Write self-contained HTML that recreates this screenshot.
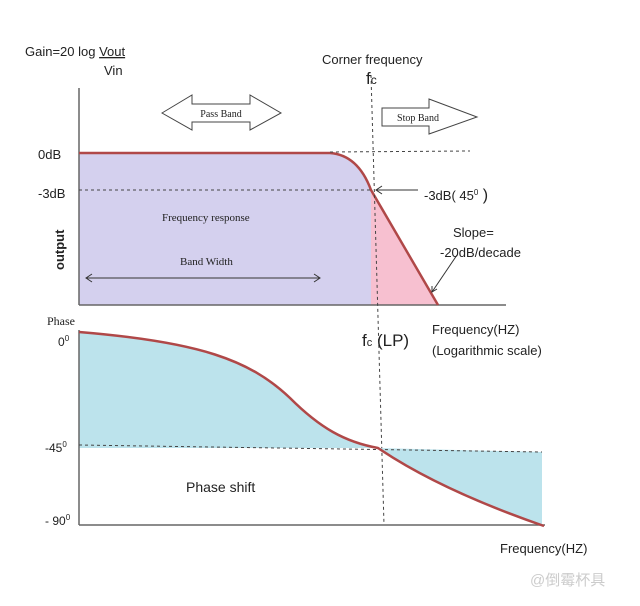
<!DOCTYPE html>
<html><head><meta charset="utf-8"><style>
html,body{margin:0;padding:0;background:#fff;}
svg{display:block;}
.c{font-family:"Liberation Sans","DejaVu Sans",sans-serif;fill:#222;}
.s{font-family:"Liberation Serif",serif;fill:#222;}
</style></head><body>
<svg width="640" height="606" viewBox="0 0 640 606" xmlns="http://www.w3.org/2000/svg">
<path d="M79,153 L330,153 Q358,155 371,190 L371,305 L79,305 Z" fill="#d4d0ee"/>
<path d="M371,190 L438,305 L371,305 Z" fill="#f7c0d0"/>
<line x1="79" y1="88" x2="79" y2="305" stroke="#666" stroke-width="1.5"/>
<line x1="79" y1="305" x2="506" y2="305" stroke="#666" stroke-width="1.5"/>
<path d="M79,153 L330,153 Q358,155 371,190 L438,305" fill="none" stroke="#b04848" stroke-width="2.5"/>
<line x1="330" y1="152" x2="470" y2="151" stroke="#444" stroke-dasharray="3,3"/>
<line x1="79" y1="190" x2="372" y2="190" stroke="#444" stroke-dasharray="3,3"/>
<line x1="371" y1="75" x2="384" y2="525" stroke="#444" stroke-dasharray="3,3"/>
<line x1="418" y1="190" x2="376" y2="190" stroke="#333"/>
<path d="M382,186 L376,190 L382,194" fill="none" stroke="#333"/>
<line x1="457" y1="255" x2="432" y2="292" stroke="#333"/>
<path d="M432,286 L432,292 L437,289" fill="none" stroke="#333"/>
<line x1="86" y1="278" x2="320" y2="278" stroke="#333"/>
<path d="M92,274 L86,278 L92,282 M314,274 L320,278 L314,282" fill="none" stroke="#333"/>
<path d="M162,113 L192,95 L192,104 L250,104 L250,95 L281,113 L250,130 L250,122 L192,122 L192,130 Z" fill="#fff" stroke="#444"/>
<text x="221" y="117" class="s" font-size="10" text-anchor="middle">Pass Band</text>
<path d="M382,108 L429,108 L429,99 L477,117 L429,134 L429,126 L382,126 Z" fill="#fff" stroke="#444"/>
<text x="418" y="121" class="s" font-size="10" text-anchor="middle">Stop Band</text>
<text x="25" y="56" class="c" font-size="13">Gain=20 log <tspan text-decoration="underline">Vout</tspan></text>
<text x="104" y="75" class="c" font-size="13">Vin</text>
<text x="322" y="64" class="c" font-size="13">Corner frequency</text>
<text x="366" y="84" class="c" font-size="17">f<tspan font-size="12">c</tspan></text>
<text x="38" y="159" class="c" font-size="13">0dB</text>
<text x="38" y="198" class="c" font-size="13">-3dB</text>
<text x="424" y="200" class="c" font-size="13">-3dB( 45<tspan font-size="8" dy="-5">0</tspan><tspan dy="5" font-size="16"> )</tspan></text>
<text x="453" y="237" class="c" font-size="13">Slope=</text>
<text x="440" y="257" class="c" font-size="13">-20dB/decade</text>
<text x="162" y="221" class="s" font-size="11">Frequency response</text>
<text x="180" y="265" class="s" font-size="11">Band Width</text>
<text x="64" y="270" class="c" font-size="13" font-weight="bold" transform="rotate(-90 64 270)">output</text>
<path d="M79,332 C200,342 250,360 290,398 C320,428 345,442 378,448 L79,448 Z" fill="#bce3ec"/>
<path d="M378,448 L542,452 L542,525 Q440,490 378,448 Z" fill="#bce3ec"/>
<line x1="79" y1="330" x2="79" y2="525" stroke="#666" stroke-width="1.5"/>
<line x1="79" y1="525" x2="545" y2="525" stroke="#666" stroke-width="1.5"/>
<line x1="79" y1="445" x2="542" y2="452" stroke="#444" stroke-dasharray="3,3"/>
<path d="M79,332 C200,342 250,360 290,398 C320,428 345,442 378,448 Q440,490 544,526" fill="none" stroke="#b04848" stroke-width="2.5"/>
<text x="47" y="325" class="s" font-size="12">Phase</text>
<text x="58" y="346" class="c" font-size="12">0<tspan font-size="8" dy="-5">0</tspan></text>
<text x="45" y="452" class="c" font-size="12">-45<tspan font-size="8" dy="-5">0</tspan></text>
<text x="45" y="525" class="c" font-size="12">- 90<tspan font-size="8" dy="-5">0</tspan></text>
<text x="362" y="346" class="c" font-size="17">f<tspan font-size="11">c</tspan> (LP)</text>
<text x="432" y="334" class="c" font-size="13">Frequency(HZ)</text>
<text x="432" y="355" class="c" font-size="13">(Logarithmic scale)</text>
<text x="186" y="492" class="c" font-size="14">Phase shift</text>
<text x="500" y="553" class="c" font-size="13">Frequency(HZ)</text>
<text x="530" y="585" font-family="'Liberation Sans','Noto Sans CJK SC',sans-serif" font-size="15" fill="#ccc">@倒霉杯具</text>
</svg>
</body></html>
